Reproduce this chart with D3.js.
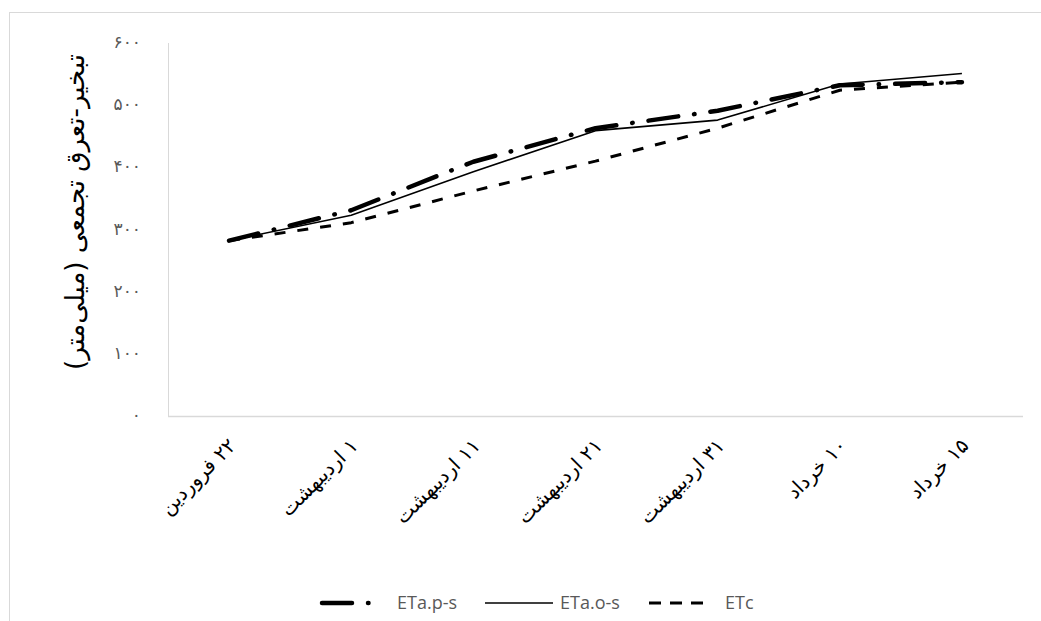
<!DOCTYPE html>
<html><head><meta charset="utf-8">
<script src="https://cdn.jsdelivr.net/npm/d3@7"></script>
<style>body{margin:0;background:#fff}svg{display:block}</style>
</head><body>
<svg id="c" width="1041" height="621"></svg>
<script>
const categories = ["۲۲ فروردین","۱ اردیبهشت","۱۱ اردیبهشت","۲۱ اردیبهشت","۳۱ اردیبهشت","۱۰ خرداد","۱۵ خرداد"];
const etaPS = [282, 331, 409, 463, 491, 532, 537];
const etaOS = [282, 323, 393, 459, 476, 534, 551];
const etc   = [282, 311, 362, 410, 463, 524, 537];
const yTicks = [0, 100, 200, 300, 400, 500, 600];
const seriesNames = ["ETa.p-s", "ETa.o-s", "ETc"];
const yTitle = "تبخیر-تعرق تجمعی (میلی‌متر)";

const fa = n => String(n).replace(/\d/g, d => "۰۱۲۳۴۵۶۷۸۹"[d]);

const svg = d3.select("#c");
const m = {l:168, r:1023, t:43, b:416};

svg.append("rect").attr("x",9.5).attr("y",12.5).attr("width",1100).attr("height",700)
  .attr("fill","none").attr("stroke","#d9d9d9");

const x = d3.scaleBand().domain(categories).range([m.l, m.r]);
const y = d3.scaleLinear().domain([0,600]).range([m.b, m.t]);

svg.append("line").attr("x1",m.l+0.5).attr("x2",m.l+0.5).attr("y1",m.t).attr("y2",m.b)
  .attr("stroke","#d9d9d9").attr("stroke-width",1);
svg.append("line").attr("x1",m.l).attr("x2",m.r).attr("y1",m.b+0.5).attr("y2",m.b+0.5)
  .attr("stroke","#d9d9d9").attr("stroke-width",1.3);

svg.append("g").selectAll("text").data(yTicks).join("text")
  .attr("x",141).attr("y",d=>y(d)).attr("dy","0.3em")
  .attr("text-anchor","end").attr("fill","#595959")
  .attr("font-family","DejaVu Sans, sans-serif").attr("font-size",17)
  .text(d=>fa(d));

svg.append("g").selectAll("text").data(categories).join("text")
  .attr("transform",d=>`translate(${x(d)+x.bandwidth()/2+8},${447}) rotate(-45)`)
  .attr("direction","rtl").attr("text-anchor","start")
  .attr("fill","#000").attr("font-family","DejaVu Sans, sans-serif").attr("font-size",20)
  .text(d=>d);

svg.append("text").attr("transform","translate(84,212) rotate(-90)")
  .attr("direction","rtl").attr("text-anchor","middle")
  .attr("fill","#000").attr("font-family","DejaVu Sans, sans-serif").attr("font-size",26)
  .text(yTitle);

const styles = [
  {w:4.5, dash:"30 16 0.5 16", cap:"round"},
  {w:1.6, dash:null, cap:"butt"},
  {w:3, dash:"11 12", cap:"butt"}
];
const data = [etaPS, etaOS, etc];
const line = d3.line().x((d,i)=>x(categories[i])+x.bandwidth()/2).y(d=>y(d));
[2,1,0].forEach(k=>{
  svg.append("path").attr("d",line(data[k])).attr("fill","none")
    .attr("stroke","#000").attr("stroke-width",styles[k].w)
    .attr("stroke-linecap",styles[k].cap).attr("stroke-linejoin","round")
    .attr("stroke-dasharray",styles[k].dash);
});

const leg = [
  {x1:322, x2:374, tx:397},
  {x1:485, x2:553, tx:560},
  {x1:649, x2:705, tx:725}
];
const ly = 603;
leg.forEach((L,k)=>{
  svg.append("line").attr("x1",L.x1).attr("x2",L.x2).attr("y1",ly).attr("y2",ly)
    .attr("stroke","#000").attr("stroke-width",styles[k].w)
    .attr("stroke-linecap",styles[k].cap)
    .attr("stroke-dasharray", k===0 ? "30 16 0.5 16" : (k===2 ? "12 9" : null));
  svg.append("text").attr("x",L.tx).attr("y",ly).attr("dy","0.35em")
    .attr("fill","#595959").attr("font-family","Open Sans, sans-serif").attr("font-size",18)
    .text(seriesNames[k]);
});
</script>
</body></html>
